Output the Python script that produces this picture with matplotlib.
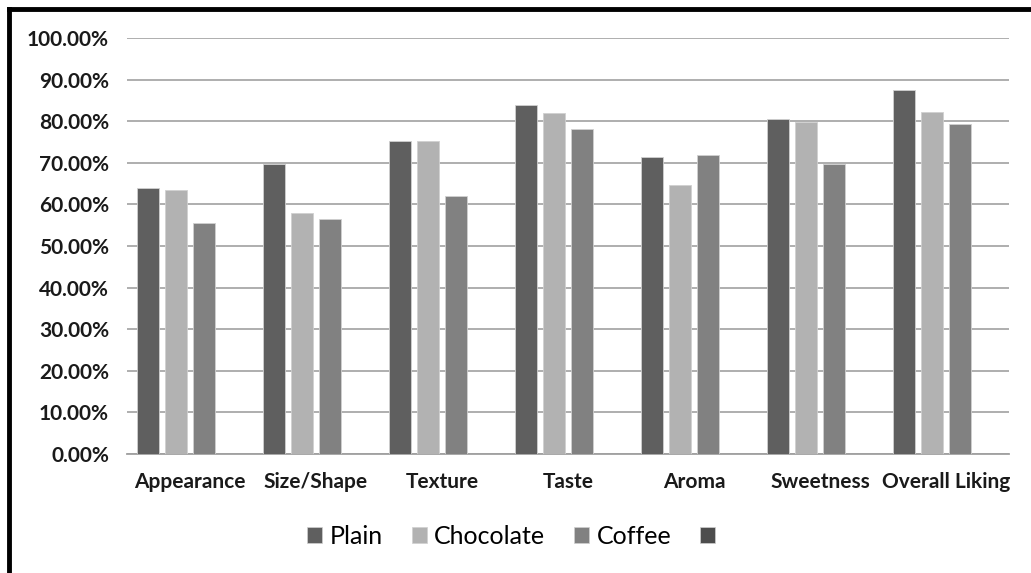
import numpy as np
import matplotlib
matplotlib.use("Agg")
import matplotlib.pyplot as plt
from matplotlib.patches import Patch
from matplotlib.lines import Line2D

# Data
categories = ["Appearance", "Size/Shape", "Texture", "Taste", "Aroma", "Sweetness", "Overall Liking"]
plain = [64.0, 69.7, 75.3, 83.9, 71.5, 80.5, 87.4]
chocolate = [63.4, 58.0, 75.3, 81.9, 64.7, 79.9, 82.2]
coffee = [55.5, 56.4, 61.9, 78.1, 71.8, 69.8, 79.4]
series_names = ["Plain", "Chocolate", "Coffee", ""]
yticks = [0, 10, 20, 30, 40, 50, 60, 70, 80, 90, 100]

colors = ["#5f5f5f", "#b2b2b2", "#818181", "#4d4d4d"]

fig = plt.figure(figsize=(10.31, 5.73), dpi=100)
W, H = 1031, 573
ax = fig.add_axes([127 / W, 1 - 454 / H, (1009 - 127) / W, (454 - 38) / H])

x = np.arange(len(categories))
pitch = 28 / 126
width = 22 / 126
# four slots per category (fourth series is empty)
for k, vals in enumerate([plain, chocolate, coffee]):
    ax.bar(x + (k - 1.5) * pitch, vals, width, color=colors[k],
           edgecolor="#d0d0d0", linewidth=0.6, zorder=3)

ax.set_xlim(-0.5, len(categories) - 0.5)
ax.set_ylim(0, 100)
ax.set_yticks(yticks)
ax.set_yticklabels([f"{v:.2f}%" for v in yticks])
ax.set_xticks(x)
ax.set_xticklabels(categories)
ax.grid(axis="y", color="#a8a8a8", linewidth=1.3, zorder=0)
for s in ["top", "right", "left"]:
    ax.spines[s].set_visible(False)
ax.spines["bottom"].set_color("#a0a0a0")
ax.spines["bottom"].set_linewidth(1.3)
ax.tick_params(length=0)
for lab in ax.get_yticklabels() + ax.get_xticklabels():
    lab.set_fontfamily("Lato")
    lab.set_fontweight("bold")
    lab.set_fontsize(15)
    lab.set_color("#1a1a1a")
ax.tick_params(axis="y", pad=13)
ax.tick_params(axis="x", pad=13)

handles = [Patch(facecolor=c, edgecolor="#d0d0d0", linewidth=0.5) for c in colors]
fig.legend(handles, series_names, loc="center", bbox_to_anchor=(515 / W, 1 - 536 / H),
           ncol=4, frameon=False, handlelength=0.6, handleheight=0.6,
           handletextpad=0.3, columnspacing=1.15,
           prop={"family": "Lato", "size": 18})

# black frame (left and top edges)
fig.add_artist(Line2D([9 / W, 9 / W], [0, 1 - 9 / H], color="black", linewidth=3.5,
                      transform=fig.transFigure, solid_capstyle="projecting"))
fig.add_artist(Line2D([9 / W, 1], [1 - 9 / H, 1 - 9 / H], color="black", linewidth=3.5,
                      transform=fig.transFigure, solid_capstyle="projecting"))

fig.savefig("out.png", dpi=100)
